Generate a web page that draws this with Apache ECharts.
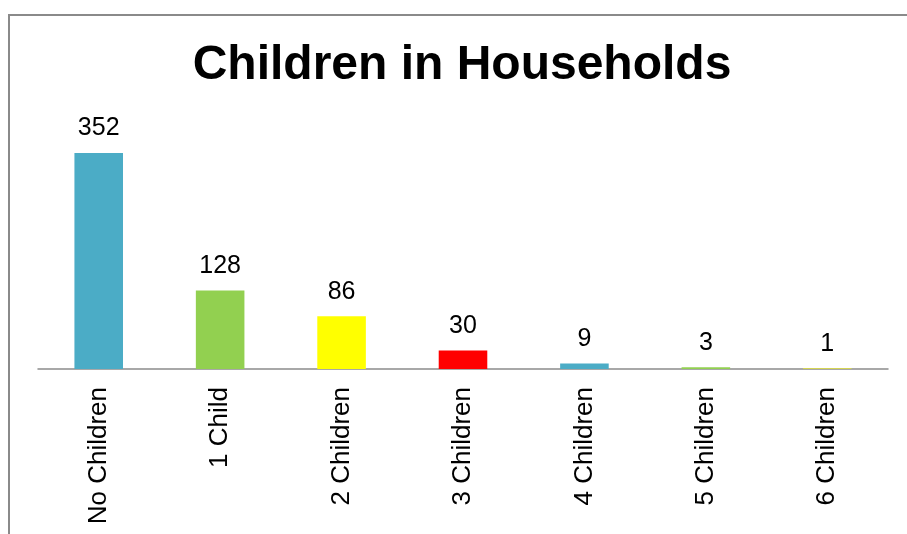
<!DOCTYPE html>
<html>
<head>
<meta charset="utf-8">
<script src="https://cdn.jsdelivr.net/npm/echarts@6/dist/echarts.min.js"></script>
<style>
html,body{margin:0;padding:0;background:#fff;}
#chart{width:907px;height:534px;}
</style>
</head>
<body>
<div id="chart"></div>
<script>
const titleText = 'Children in Households';
const categories = ['No Children', '1 Child', '2 Children', '3 Children', '4 Children', '5 Children', '6 Children'];
const values = [352, 128, 86, 30, 9, 3, 1];
const barColors = ['#4BACC6', '#92D050', '#FFFF00', '#FF0000', '#4BACC6', '#92D050', '#FFFF00'];

const chart = echarts.init(document.getElementById('chart'), null, {renderer: 'canvas'});
chart.setOption({
  animation: false,
  backgroundColor: '#ffffff',
  title: {
    text: titleText,
    left: 457,
    textAlign: 'center',
    top: 37,
    textStyle: {fontFamily: 'Liberation Sans, Arial, sans-serif', fontWeight: 'bold', fontSize: 48, color: '#000'}
  },
  graphic: [{
    type: 'rect',
    shape: {x: 9, y: 15, width: 1200, height: 1200},
    style: {fill: 'none', stroke: '#8a8a8a', lineWidth: 2},
    silent: true
  }],
  grid: {left: 38, right: 19, top: 123.5, bottom: 165, containLabel: false},
  xAxis: {
    type: 'category',
    data: categories,
    axisLine: {show: true, lineStyle: {color: '#8c8c8c', width: 1.5}},
    axisTick: {show: false},
    axisLabel: {
      rotate: 90, interval: 0, margin: 18, color: '#000',
      fontFamily: 'Liberation Sans, Arial, sans-serif', fontSize: 26
    }
  },
  yAxis: {
    type: 'value', min: 0, max: 400,
    show: false, splitLine: {show: false}
  },
  series: [{
    type: 'bar',
    barWidth: '40%',
    data: values.map((v, i) => ({value: v, itemStyle: {color: barColors[i]}})),
    label: {
      show: true, position: 'top', distance: 12, color: '#000',
      fontFamily: 'Liberation Sans, Arial, sans-serif', fontSize: 25
    }
  }]
});
</script>
</body>
</html>
